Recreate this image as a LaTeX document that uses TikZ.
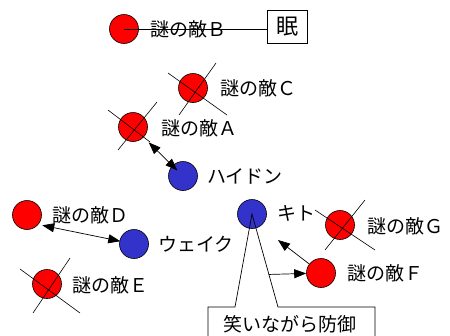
\documentclass[tikz,border=0pt]{standalone}
\usepackage{fontspec}
\setmainfont{Noto Sans CJK JP}
\usetikzlibrary{arrows.meta,calc}
\definecolor{allyblue}{RGB}{51,51,204}
\begin{document}
\begin{tikzpicture}[x=1pt,y=-1pt,
 enemy/.style={circle,draw=black,fill=red,minimum size=29pt,inner sep=0pt,line width=0.6pt},
 ally/.style={circle,draw=black,fill=allyblue,minimum size=29pt,inner sep=0pt,line width=0.6pt},
 lbl/.style={anchor=west,inner sep=0pt,font=\fontsize{19}{19}\selectfont},
 crossline/.style={line width=0.6pt},
 thinline/.style={line width=0.7pt},
 arr/.style={line width=0.7pt,-{Triangle[length=12pt,width=9pt]}},
 darr/.style={line width=0.7pt,{Triangle[length=12pt,width=9pt]}-{Triangle[length=12pt,width=9pt]}},
]
\useasboundingbox (0,0) rectangle (450,335);
\clip (0,0) rectangle (450,335);

% enemy B and sleep box
\node[enemy] (b) at (124,29) {};
\node[lbl] (bl) at (150,29) {謎の敵Ｂ};
\node[draw,line width=0.7pt,minimum width=40pt,minimum height=33pt,inner sep=0pt,font=\fontsize{22}{22}\selectfont] (sleep) at (287,27) {眠};
\draw[thinline] (b.center) -- (b.center -| sleep.west);

% enemy C
\node[enemy] (c) at (193,88) {};
\node[lbl] (cl) at (220,88) {謎の敵Ｃ};
\draw[crossline] ($(c)+(-25,-15)$) -- ($(c)+(34,27)$);
\draw[crossline] ($(c)+(23,-25)$) -- ($(c)+(-14,27)$);

% enemy A
\node[enemy] (a) at (133,127) {};
\node[lbl] (al) at (161,128) {謎の敵Ａ};
\draw[crossline] ($(a)+(-25,-17)$) -- ($(a)+(17,15)$);
\draw[crossline] ($(a)+(24,-25)$) -- ($(a)+(-15,23)$);

% Haydn
\node[ally] (haydn) at (183,176) {};
\node[lbl] (haydnl) at (207,176) {ハイドン};
\draw[darr] ($(a.center)!22pt!(haydn.center)$) -- ($(haydn.center)!8pt!(a.center)$);

% enemy D and Wake
\node[enemy] (d) at (27,215) {};
\node[lbl] (dl) at (52,215) {謎の敵Ｄ};
\node[ally] (wake) at (134,244) {};
\node[lbl] (wakel) at (158,244) {ウェイク};
\draw[darr] ($(d.-40)!4pt!(wake.center)$) -- ($(wake.center)!14pt!(d.-40)$);

% enemy E
\node[enemy] (e) at (47,284) {};
\node[lbl] (el) at (72,285) {謎の敵Ｅ};
\draw[crossline] ($(e)+(-27,-15)$) -- ($(e)+(33,29)$);
\draw[crossline] ($(e)+(23,-26)$) -- ($(e)+(-14,29)$);

% Kito
\node[ally] (kito) at (252,214) {};
\node[lbl] (kitol) at (277,213) {キト};

% enemy G
\node[enemy] (g) at (340,225) {};
\node[lbl] (gl) at (367,226) {謎の敵Ｇ};
\draw[crossline] ($(g)+(-25,-15)$) -- ($(g)+(35,25)$);
\draw[crossline] ($(g)+(25,-25)$) -- ($(g)+(-15,25)$);

% enemy F
\node[enemy] (f) at (321,273) {};
\node[lbl] (fl) at (347,273) {謎の敵Ｆ};

% callout
\coordinate (cbl) at (235,307);
\coordinate (cbr) at (278,307);
\draw[thinline] (208,345) -- (208,307) -- (cbl) -- (kito.center) -- (cbr) -- (375,307) -- (375,345);
\node[inner sep=0pt,font=\fontsize{19}{19}\selectfont] (defend) at (290,324) {笑いながら防御};

% arrows from F
\coordinate (kt) at (278,240);
\draw[arr] (f) -- (kt);
\coordinate (cr) at ($(kito.center)!0.65!(cbr)$);
\draw[arr] (cr) -- (f);
\end{tikzpicture}
\end{document}
